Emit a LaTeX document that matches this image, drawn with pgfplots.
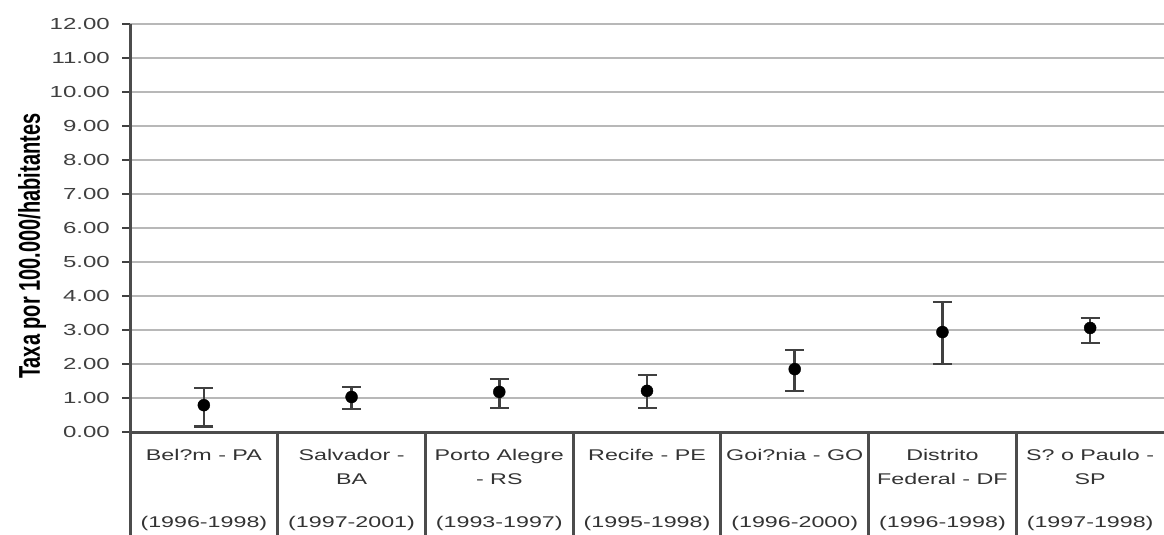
\documentclass[border=0pt]{standalone}
\usepackage{pgfplots}
\pgfplotsset{compat=1.18}
\usepackage{fontspec}
\setmainfont{Liberation Sans}
\usetikzlibrary{calc}
\newcommand{\sx}[1]{\scalebox{1.5}[1]{#1}}
\begin{document}
\begin{tikzpicture}
\begin{axis}[
  name=ax,
  scale only axis,
  width=1034pt, height=408pt,
  xmin=0, xmax=7, ymin=0, ymax=12,
  axis x line=bottom, axis y line=left,
  axis line style={black!70, line width=3pt, -},
  ytick={0,1,...,12},
  yticklabel={\sx{\pgfmathprintnumber[fixed,fixed zerofill,precision=2]{\tick}}},
  yticklabel style={font=\fontsize{16}{18}\selectfont, text=black!75, /pgf/number format/assume math mode=true, inner sep=0pt, xshift=-12pt},
  ymajorgrids,
  grid style={black!28, line width=2.2pt},
  y tick style={black!75, line width=2.5pt},
  major tick length=8pt,
  tick align=outside,
  xtick={0.5,1.5,2.5,3.5,4.5,5.5,6.5},
  xticklabels={
    {\sx{Bel?m - PA}\\ \strut\\[19pt]\sx{(1996-1998)}},
    {\sx{Salvador -}\\ \sx{BA}\\[19pt]\sx{(1997-2001)}},
    {\sx{Porto Alegre}\\ \sx{- RS}\\[19pt]\sx{(1993-1997)}},
    {\sx{Recife - PE}\\ \strut\\[19pt]\sx{(1995-1998)}},
    {\sx{Goi?nia - GO}\\ \strut\\[19pt]\sx{(1996-2000)}},
    {\sx{Distrito}\\ \sx{Federal - DF}\\[19pt]\sx{(1996-1998)}},
    {\sx{S? o Paulo -}\\ \sx{SP}\\[19pt]\sx{(1997-1998)}}},
  x tick style={draw=none},
  xticklabel style={font=\fontsize{15.5}{24}\selectfont, text=black!80, align=center, anchor=north, yshift=-9pt, inner sep=0pt},
  ylabel={\scalebox{1}[1.5]{\textbf{Taxa por 100.000/habitantes}}},
  ylabel style={font=\fontsize{20}{21}\selectfont, at={(ticklabel cs:0.47)}, anchor=south, xshift=-6pt},
  clip=false,
]
\addplot+[only marks, mark=*, mark size=6pt, mark options={fill=black, draw=black},
  error bars/.cd, y dir=both, y explicit,
  error bar style={black!75, line width=2.6pt},
  error mark options={rotate=90, mark size=9.5pt, line width=2.6pt, black!75}]
coordinates {
  (0.5,0.79) += (0,0.50) -= (0,0.62)
  (1.5,1.03) += (0,0.29) -= (0,0.35)
  (2.5,1.18) += (0,0.38) -= (0,0.47)
  (3.5,1.21) += (0,0.47) -= (0,0.50)
  (4.5,1.85) += (0,0.56) -= (0,0.64)
  (5.5,2.94) += (0,0.88) -= (0,0.94)
  (6.5,3.06) += (0,0.29) -= (0,0.44)
};
\pgfplotsinvokeforeach{0,1,2,3,4,5,6}{
  \draw[black!70, line width=3pt] (axis cs:#1,0) -- ++(0,-106pt);
}
\end{axis}
\pgfresetboundingbox
\path ($(ax.south west)+(-130pt,-102pt)$) rectangle ($(ax.north east)+(0pt,24pt)$);
\end{tikzpicture}
\end{document}
